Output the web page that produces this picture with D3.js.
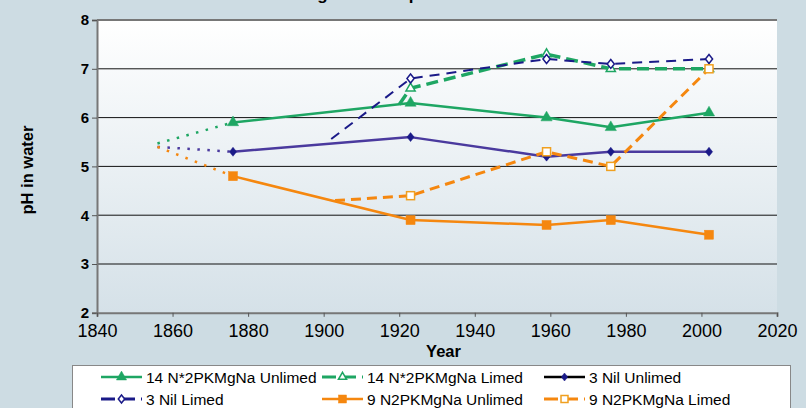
<!DOCTYPE html>
<html><head><meta charset="utf-8">
<script src="https://cdn.jsdelivr.net/npm/d3@7"></script>
<style>
html,body{margin:0;padding:0;background:#cddce3;}
svg{display:block;font-family:Arial,"Liberation Sans",sans-serif;}
</style></head>
<body><svg id="c" width="806" height="408"></svg>
<script>
// ---- data ----
const titleText = "Long-term soil pH trends";
const xTicks = [1840,1860,1880,1900,1920,1940,1960,1980,2000,2020];
const yTicks = [2,3,4,5,6,7,8];
const years = [1876, 1923, 1959, 1976, 2002];
const initialYear = 1856;
const n14Unlimed = [5.9, 6.3, 6.0, 5.8, 6.1];
const n14UnlimedStart = 5.47;
const n14Limed = [null, 6.6, 7.3, 7.0, 7.0];
const n14LimedFrom = [1920, 6.27];
const nilUnlimed = [5.3, 5.6, 5.2, 5.3, 5.3];
const nilUnlimedStart = 5.4;
const nilLimed = [null, 6.8, 7.2, 7.1, 7.2];
const nilLimedFrom = [1902, 5.56];
const n9Unlimed = [4.8, 3.9, 3.8, 3.9, 3.6];
const n9UnlimedStart = 5.4;
const n9Limed = [null, 4.4, 5.3, 5.0, 7.0];
const n9LimedFrom = [1903, 4.3];
const seriesNames = ["14 N*2PKMgNa Unlimed","14 N*2PKMgNa Limed","3 Nil Unlimed","3 Nil Limed","9 N2PKMgNa Unlimed","9 N2PKMgNa Limed"];

// ---- styles ----
const GREEN="#1ea663", PURPLE="#4a3a9e", NAVY="#1a1a88", ORANGE="#f5870f", ORANGE2="#f0a020";
const series = [
  {name:seriesNames[0], vals:n14Unlimed, start:[initialYear,n14UnlimedStart], color:GREEN, lg:GREEN, w:2.5, dash:null, shape:"tri", fill:GREEN, mstroke:GREEN},
  {name:seriesNames[1], vals:n14Limed, from:n14LimedFrom, color:GREEN, lg:GREEN, w:3.5, dash:"12,6", shape:"tri", fill:"#fff", mstroke:GREEN},
  {name:seriesNames[2], vals:nilUnlimed, start:[initialYear,nilUnlimedStart], color:PURPLE, lg:"#000", w:2.5, dash:null, shape:"dia", fill:NAVY, mstroke:NAVY},
  {name:seriesNames[3], vals:nilLimed, from:nilLimedFrom, color:NAVY, lg:NAVY, w:2, dash:"10,7", shape:"dia", fill:"#fff", mstroke:NAVY},
  {name:seriesNames[4], vals:n9Unlimed, start:[initialYear,n9UnlimedStart], color:ORANGE, lg:ORANGE, w:2.5, dash:null, shape:"sq", fill:ORANGE, mstroke:ORANGE},
  {name:seriesNames[5], vals:n9Limed, from:n9LimedFrom, color:ORANGE, lg:ORANGE, w:3, dash:"10,6", shape:"sq", fill:"#fff", mstroke:ORANGE2}
];

const svg = d3.select("#c");
const L=97, R=777, T=20, B=312.8;
const x = d3.scaleLinear().domain([1840,2020]).range([L,R]);
const y = d3.scaleLinear().domain([2,8]).range([B,T]);

const defs = svg.append("defs");
const g = defs.append("linearGradient").attr("id","pg").attr("x1",0).attr("y1",0).attr("x2",0).attr("y2",1);
g.append("stop").attr("offset","0%").attr("stop-color","#ffffff");
g.append("stop").attr("offset","100%").attr("stop-color","#d5e1e8");

svg.append("rect").attr("width",806).attr("height",408).attr("fill","#cddce3");
svg.append("text").attr("x",286).attr("y",0).attr("font-size",17).attr("font-weight","bold").text(titleText);
svg.append("rect").attr("x",L).attr("y",T).attr("width",R-L).attr("height",B-T).attr("fill","url(#pg)");

// gridlines
svg.append("g").selectAll("line").data(yTicks.filter(d=>d>2)).join("line")
  .attr("x1",L).attr("x2",R).attr("y1",d=>y(d)).attr("y2",d=>y(d))
  .attr("stroke",d=>d===8?"#777":"#111").attr("stroke-width",d=>d===8?2:1);

// axes
const ya = svg.append("g").attr("transform",`translate(${L},0)`)
  .call(d3.axisLeft(y).tickValues(yTicks).tickFormat(d3.format("d")).tickSize(5).tickPadding(3));
ya.select(".domain").attr("stroke","#777").attr("stroke-width",2);
ya.selectAll(".tick line").attr("stroke","#555");
ya.selectAll("text").attr("font-size",15).attr("font-weight","bold").attr("fill","#000").attr("font-family","Arial,'Liberation Sans',sans-serif");

const xa = svg.append("g").attr("transform",`translate(0,${B})`)
  .call(d3.axisBottom(x).tickValues(xTicks).tickFormat(d3.format("d")).tickSize(4).tickSizeOuter(4).tickPadding(7));
xa.select(".domain").attr("stroke","#777").attr("stroke-width",2);
xa.selectAll(".tick line").attr("stroke","#555");
xa.selectAll("text").attr("font-size",18).attr("fill","#000").attr("font-family","Arial,'Liberation Sans',sans-serif");

svg.append("text").attr("x",443.5).attr("y",357).attr("text-anchor","middle")
  .attr("font-size",16.5).attr("font-weight","bold").text("Year");
svg.append("text").attr("transform","translate(33,170) rotate(-90)").attr("text-anchor","middle")
  .attr("font-size",16.5).attr("font-weight","bold").text("pH in water");

// markers
function marker(sel, shape, s){
  if(shape==="tri") return sel.append("path").attr("d",d3.symbol(d3.symbolTriangle, s*s*0.45)());
  if(shape==="dia") return sel.append("path").attr("d",`M0,${-s/2}L${s/2*0.8},0L0,${s/2}L${-s/2*0.8},0Z`);
  return sel.append("rect").attr("x",-s/2).attr("y",-s/2).attr("width",s).attr("height",s);
}
const msize = {tri:11, dia:9, sq:9};
const osize = {tri:9, dia:9, sq:8};

const line = d3.line().x(d=>x(d[0])).y(d=>y(d[1]));
const plot = svg.append("g");
series.forEach(s=>{
  const pts = years.map((yr,i)=>[yr,s.vals[i]]).filter(d=>d[1]!=null);
  if(s.start){
    plot.append("path").attr("d",line([s.start, pts[0]])).attr("fill","none")
      .attr("stroke",s.color).attr("stroke-width",2.5).attr("stroke-dasharray","2.5,7.5");
  }
  const full = s.from ? [s.from, ...pts] : pts;
  plot.append("path").attr("d",line(full)).attr("fill","none").attr("stroke",s.color)
    .attr("stroke-width",s.w).attr("stroke-dasharray",s.dash).attr("stroke-linejoin","round");
  pts.forEach(p=>{
    const m = plot.append("g").attr("transform",`translate(${x(p[0])},${y(p[1])})`);
    const filled = s.fill!=="#fff";
    marker(m, s.shape, filled?msize[s.shape]:osize[s.shape]).attr("fill",s.fill)
      .attr("stroke",s.mstroke).attr("stroke-width",filled?0.5:1.5);
  });
});

// legend
svg.append("rect").attr("x",72.5).attr("y",365.5).attr("width",718).attr("height",50)
  .attr("fill","#fff").attr("stroke","#888").attr("stroke-width",1);
const colX = [101, 322, 544];
const rowY = [377, 399];
series.forEach((s,i)=>{
  const cx = colX[i%3], cy = rowY[Math.floor(i/3)];
  const lg = svg.append("g").attr("transform",`translate(${cx},${cy})`);
  lg.append("line").attr("x1",0).attr("x2",41).attr("y1",0).attr("y2",0)
    .attr("stroke",s.lg).attr("stroke-width",s.dash?3:2.5).attr("stroke-dasharray",s.dash?"14,6":null);
  const m = lg.append("g").attr("transform","translate(20.5,0)");
  const filled = s.fill!=="#fff";
  marker(m, s.shape, filled?msize[s.shape]-1:osize[s.shape]-1).attr("fill",s.fill)
    .attr("stroke",s.shape==="dia"&&filled?NAVY:s.mstroke).attr("stroke-width",filled?0.5:1.5);
  lg.append("text").attr("x",45).attr("y",5.5).attr("font-size",15.5).text(s.name);
});
</script></body></html>
